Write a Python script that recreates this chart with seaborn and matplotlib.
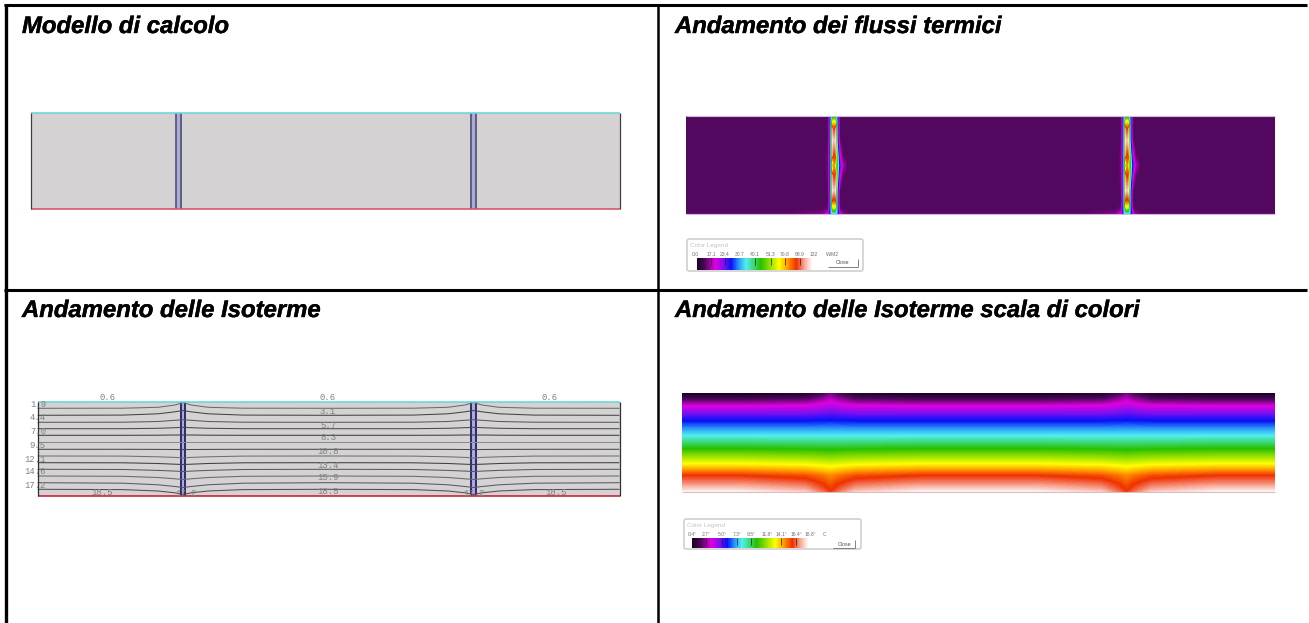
import numpy as np
import pandas as pd
import matplotlib
matplotlib.use("Agg")
import matplotlib.pyplot as plt
import matplotlib.patheffects as pe
from matplotlib.colors import LinearSegmentedColormap
from matplotlib.patches import Rectangle, FancyBboxPatch
import seaborn as sns

W, H = 1309, 623

# ---- text ----
titles = ["Modello di calcolo", "Andamento dei flussi termici",
          "Andamento delle Isoterme", "Andamento delle Isoterme scala di colori"]
flux_legend_labels = ["0.0", "17.1", "23.4", "30.7", "40.1", "51.3", "70.8", "98.9", "132", "W/M2"]
temp_legend_labels = ["0.4°", "2.7°", "5.0°", "7.3°", "9.5°", "11.8°", "14.1°", "16.4°", "18.8°", "C"]
iso_left_labels = ["1.9", "4.4", "7.0", "9.5", "12.1", "14.6", "17.2"]
iso_mid_labels = ["0.6", "3.1", "5.7", "8.3", "10.8", "13.4", "15.9", "18.5"]

# ---- isotherm lines: pixel-height read at distance from a stud ----
iso_far = [408.3, 415.3, 422.3, 428.7, 435.3, 442.3, 449.3, 456.0, 462.7, 469.3, 476.0, 482.7, 489.3]
iso_d60 = [408.2, 415.1, 422.2, 428.7, 435.3, 442.3, 449.3, 456.1, 462.8, 469.5, 476.3, 483.2, 489.6]
iso_d25 = [407.3, 413.8, 421.5, 428.3, 435.2, 442.3, 449.4, 456.8, 463.5, 470.4, 477.5, 484.8, 491.0]
iso_d8 = [405.0, 411.8, 420.3, 427.7, 435.0, 442.3, 449.5, 457.4, 464.2, 471.1, 478.8, 486.5, 492.8]
iso_d0 = [402.5, 410.5, 419.7, 427.3, 435.0, 442.3, 449.6, 458.0, 464.5, 471.5, 479.5, 487.5, 494.5]
iso_shades = ["#6a6a6a", "#454545", "#5a5a5a", "#4a4a4a", "#404040", "#8a8a8a", "#4a4a4a",
              "#707070", "#404040", "#5a5a5a", "#6a6a6a", "#5a5a5a", "#505050"]

# ---- temperature field (deg C) per height ----
temp_y = [393, 399, 405, 412, 420, 435, 448, 463, 475, 483, 488, 491]
temp_far = [0.4, 1.8, 3.3, 4.7, 5.9, 8.3, 10.7, 13.6, 16.4, 17.4, 18.2, 18.8]
temp_d20 = [0.7, 2.0, 3.4, 4.7, 5.9, 8.3, 10.6, 13.4, 16.0, 17.0, 17.6, 18.2]
temp_d0 = [2.2, 3.1, 3.9, 5.0, 6.0, 8.3, 10.5, 13.1, 15.2, 15.9, 16.2, 16.4]

# ---- heat flux (W/m2) by height and by offset from a stud ----
flux_offsets = [-40, -12, -6, -4.5, -3, -1.5, 0, 1.5, 3, 4.5, 6, 9, 14, 40]
flux_y = [116, 120, 128, 140, 155, 165, 175, 190, 200, 208, 213]
flux_table = [
    [10, 10, 10, 30, 52, 66, 72, 66, 52, 30, 10, 10, 10, 10],
    [10, 10, 10, 32, 56, 88, 95, 88, 56, 32, 10, 10, 10, 10],
    [10, 8, 10, 30, 58, 122, 112, 122, 58, 30, 10, 8, 9, 10],
    [10, 8, 11, 32, 60, 130, 125, 130, 60, 32, 12, 8, 9, 10],
    [10, 8, 12, 32, 60, 122, 112, 118, 74, 50, 24, 11, 9, 10],
    [10, 8, 12, 32, 58, 84, 112, 96, 74, 58, 34, 18, 9, 10],
    [10, 8, 12, 32, 60, 122, 112, 118, 74, 50, 24, 11, 9, 10],
    [10, 8, 11, 32, 60, 130, 125, 130, 60, 32, 11, 8, 9, 10],
    [10, 8, 10, 30, 58, 115, 112, 115, 58, 30, 10, 8, 9, 10],
    [10, 10, 12, 34, 56, 86, 92, 86, 56, 34, 12, 10, 10, 10],
    [11, 14, 22, 38, 52, 58, 60, 58, 52, 38, 22, 14, 11, 11],
]

sns.set_theme(style="white")
plt.rcParams["font.family"] = ["Liberation Sans", "DejaVu Sans"]

cmap = LinearSegmentedColormap.from_list("therm", [
    (0.00, "#1c0028"), (0.07, "#4a0858"), (0.16, "#e000e0"), (0.24, "#7a10f0"),
    (0.30, "#0810f8"), (0.37, "#2c9cf8"), (0.43, "#50f0f0"), (0.56, "#28c000"),
    (0.72, "#ffff00"), (0.79, "#ffa000"), (0.87, "#f03000"),
    (0.94, "#f8a898"), (1.00, "#fff4f2")])

fig = plt.figure(figsize=(W / 100, H / 100), dpi=100, facecolor="white")
ax = fig.add_axes([0, 0, 1, 1], zorder=5)
ax.set_xlim(0, W)
ax.set_ylim(H, 0)
ax.axis("off")


def inset(x0, y0, x1, y1):
    a = fig.add_axes([x0 / W, 1 - y1 / H, (x1 - x0) / W, (y1 - y0) / H], zorder=1)
    return a


def heat(x0, y0, x1, y1, grid, vmin, vmax):
    a = inset(x0, y0, x1, y1)
    sns.heatmap(pd.DataFrame(grid), ax=a, cmap=cmap, vmin=vmin, vmax=vmax, cbar=False,
                xticklabels=False, yticklabels=False, rasterized=True)
    a.set_xlabel("")
    a.set_ylabel("")
    return a


# ---- frame ----
ax.hlines([5.3, 289.5], 4, 1307, color="black", lw=2.2)
ax.vlines(5.5, 4, 623, color="black", lw=2.4)
ax.vlines(658.3, 4, 623, color="black", lw=1.8)

# ---- titles ----
title_pos = [(22, 33), (675, 33), (22, 317), (675, 317)]
for t, (x, y) in zip(titles, title_pos):
    ax.text(x, y, t, fontsize=17.2, fontweight="bold", fontstyle="italic", color="black",
            va="baseline", ha="left",
            path_effects=[pe.withStroke(linewidth=0.3, foreground="black")])


# ---- top-left: model ----
def stud(x0, x1, y0, y1, edge):
    ax.add_patch(Rectangle((x0, y0), x1 - x0, y1 - y0, fc="#abaad8", ec="none", zorder=3))
    ax.vlines([x0 + 0.6, x1 - 0.6], y0, y1, color=edge, lw=1.2, zorder=3)


ax.add_patch(Rectangle((31, 113), 589, 96, fc="#d4d2d2", ec="none", zorder=1))
stud(175.5, 181.8, 113, 208.5, "#505370")
stud(470.3, 476.6, 113, 208.5, "#505370")
ax.hlines(113, 31, 620, color="#70d6d6", lw=1.2, zorder=4)
ax.hlines(208.7, 31, 620, color="#d85868", lw=1.2, zorder=4)
ax.vlines(31, 113, 209, color="#404040", lw=0.9, zorder=4)
ax.vlines(620, 113, 209, color="#404040", lw=0.9, zorder=4)

# ---- bottom-left: isotherms ----
ax.add_patch(Rectangle((38, 402), 582, 94, fc="#d4d2d2", ec="none", zorder=1))
stud(180.3, 186, 402, 496, "#14145a")
stud(470.8, 476.6, 402, 496, "#14145a")

stations = [38, 123, 158, 175, 183, 191, 208, 243, 328, 413, 448, 465, 473.5, 482, 499, 534, 619]
iso_rows = []
for i, (f, a60, a25, a8, a0) in enumerate(zip(iso_far, iso_d60, iso_d25, iso_d8, iso_d0)):
    ys = [f, a60, a25, a8, a0, a8, a25, a60, f, a60, a25, a8, a0, a8, a25, a60, f]
    iso_rows += [{"line": i, "x": xx, "y": yy} for xx, yy in zip(stations, ys)]
iso_df = pd.DataFrame(iso_rows)
sns.lineplot(data=iso_df, x="x", y="y", hue="line", palette=iso_shades, estimator=None, ax=ax,
             lw=0.75, legend=False, zorder=4)
ax.set_xlim(0, W)
ax.set_ylim(H, 0)
ax.set_xlabel("")
ax.set_ylabel("")

ax.hlines(401.8, 38, 620, color="#60d8d8", lw=1.1, zorder=5)
ax.hlines(496.2, 38, 620, color="#d02040", lw=1.2, zorder=5)
ax.vlines(38, 402, 496, color="#303030", lw=0.9, zorder=5)
ax.vlines(619.5, 402, 496, color="#303030", lw=0.9, zorder=5)

mono = dict(family="Liberation Mono", fontsize=6.4, color="#808080", zorder=6)
for lab, y in zip(iso_left_labels, [404.5, 418, 431, 445, 459, 472, 485]):
    ax.text(46, y, lab, ha="right", va="center", **mono)
for lab, y in zip(iso_mid_labels, [398, 411, 425, 438, 451, 465, 478, 491.5]):
    ax.text(328, y, lab, ha="center", va="center", **mono)
ax.text(108, 398, "0.6", ha="center", va="center", **mono)
ax.text(550, 398, "0.6", ha="center", va="center", **mono)
ax.text(102, 492.5, "18.5", ha="center", va="center", **mono)
ax.text(556, 492.5, "18.5", ha="center", va="center", **mono)
ax.text(186, 493, "17.2", ha="center", va="center", **mono)
ax.text(474, 493, "17.2", ha="center", va="center", **mono)

# ---- top-right: flux field ----
fx = np.arange(686, 1275)
fy = np.arange(116, 214)
flux_arr = np.array(flux_table, dtype=float)
grid_rows = np.array([np.interp(fy, flux_y, flux_arr[:, j]) for j in range(flux_arr.shape[1])]).T
flux_grid = np.zeros((len(fy), len(fx)))
for r in range(len(fy)):
    left = np.interp(fx - 833.5, flux_offsets, grid_rows[r])
    right = np.interp(fx - 1126.5, flux_offsets, grid_rows[r])
    flux_grid[r] = np.maximum(left, right)
heat(686, 116, 1275, 213.5, flux_grid, 0, 132)
ax.hlines([116, 213.5], 686, 1275, color="#d8b8dc", lw=0.8, zorder=2)

# ---- bottom-right: temperature field ----
tx = np.arange(682, 1275)
ty = np.arange(393, 492)
col_far = np.interp(ty, temp_y, temp_far)
col_d20 = np.interp(ty, temp_y, temp_d20)
col_d0 = np.interp(ty, temp_y, temp_d0)
temp_grid = np.zeros((len(ty), len(tx)))
dist_knots = [0, 8, 25, 90]
for j, x in enumerate(tx):
    d = min(abs(x - 830), abs(x - 1126))
    temp_grid[:, j] = [np.interp(d, dist_knots, [col_d0[r], 0.6 * col_d0[r] + 0.4 * col_d20[r],
                                                 col_d20[r], col_far[r]])
                       for r in range(len(ty))]
heat(682, 393, 1275, 491.5, temp_grid, 0.4, 18.8)
ax.hlines(491.5, 682, 1275, color="#d8c0c0", lw=0.8, zorder=2)

# ---- colour legends ----
legend_levels = np.linspace(0, 1, 116).reshape(1, -1)


def legend(box, bar, heading, labels, label_x, label_y, button, ticks):
    ax.add_patch(FancyBboxPatch((box[0], box[1]), box[2] - box[0], box[3] - box[1],
                                boxstyle="round,pad=0,rounding_size=2", fc="none",
                                ec="#d0d0d0", lw=1.2, zorder=2))
    heat(bar[0], bar[1], bar[2], bar[3], legend_levels, 0, 1)
    ax.text(box[0] + 3, box[1] + 7, heading, fontsize=4.6, color="#c4c4cc", va="center")
    for lab, x in zip(labels, label_x):
        ax.text(x, label_y, lab, fontsize=3.6, color="#707070", ha="center", va="center")
    ax.hlines(button[3], button[0], button[2], color="#808080", lw=0.7)
    ax.vlines(button[2], button[1], button[3], color="#808080", lw=0.7)
    ax.text((button[0] + button[2]) / 2, (button[1] + button[3]) / 2, "Close", fontsize=3.8,
            color="#505050", ha="center", va="center")
    ax.vlines(ticks, bar[1], bar[1] + 7, color="#202020", lw=0.5)


legend((687, 239, 863, 271), (696.5, 258, 812, 270), "Color Legend", flux_legend_labels,
       [695, 711, 725, 740, 755, 771, 785, 800, 814, 832], 254.5, (828, 259, 858, 267),
       [711, 725, 755, 771, 785, 800])
legend((684, 519, 861, 549), (692, 538, 808, 548), "Color Legend", temp_legend_labels,
       [692, 706, 722, 737, 751, 767, 781, 796, 810, 825], 534.5, (833, 540, 855, 548),
       [706, 722, 737, 751, 781, 796])

fig.savefig("out.png", dpi=100, facecolor="white")
